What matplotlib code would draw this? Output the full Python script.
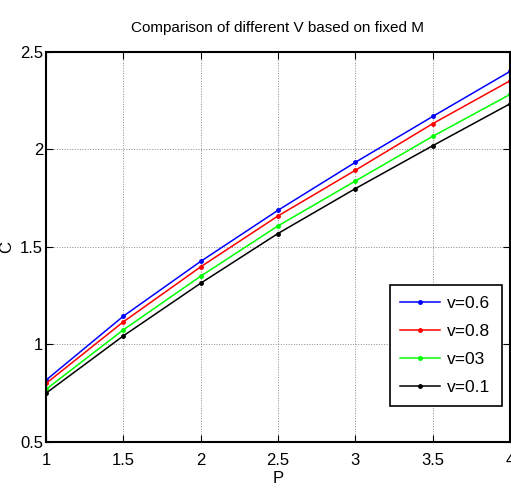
import matplotlib
matplotlib.use("Agg")
import matplotlib.pyplot as plt

plt.rcParams['font.family'] = ['Liberation Sans', 'DejaVu Sans']

p = [1, 1.5, 2, 2.5, 3, 3.5, 4]
c_v06 = [0.817, 1.145, 1.426, 1.688, 1.934, 2.169, 2.400]
c_v08 = [0.800, 1.116, 1.398, 1.659, 1.893, 2.132, 2.352]
c_v03 = [0.770, 1.075, 1.350, 1.608, 1.838, 2.067, 2.282]
c_v01 = [0.750, 1.044, 1.314, 1.569, 1.799, 2.019, 2.234]

labels = ['v=0.6', 'v=0.8', 'v=03', 'v=0.1']
colors = ['#0000ff', '#ff0000', '#00ff00', '#000000']

fig = plt.figure(figsize=(5.11, 4.90), dpi=100)
ax = fig.add_axes([0.090, 0.098, 0.908, 0.796])

for ys, lab, col in zip([c_v06, c_v08, c_v03, c_v01], labels, colors):
    ax.plot(p, ys, color=col, marker='.', markersize=5, linewidth=1.1, label=lab)

ax.set_xlim(1, 4)
ax.set_ylim(0.5, 2.5)
ax.set_xticks([1, 1.5, 2, 2.5, 3, 3.5, 4])
ax.set_xticklabels(['1', '1.5', '2', '2.5', '3', '3.5', '4'])
ax.set_yticks([0.5, 1, 1.5, 2, 2.5])
ax.set_yticklabels(['0.5', '1', '1.5', '2', '2.5'])
ax.grid(True, color='#8a8a8a', linewidth=0.7, linestyle=':')
ax.tick_params(direction='in', top=True, right=True, labelsize=12, length=5)
ax.tick_params(axis='x', pad=8)
ax.tick_params(axis='y', pad=2)
for s in ax.spines.values():
    s.set_linewidth(1.5)

ax.set_title('Comparison of different V based on fixed M', fontsize=11, pad=14)
ax.set_xlabel('P', fontsize=12, labelpad=2)
ax.set_ylabel('C', fontsize=12, labelpad=4)

leg = ax.legend(loc='lower left', bbox_to_anchor=(0.741, 0.093, 0.241, 0.344), mode='expand',
                fontsize=12.5, fancybox=False, framealpha=1, edgecolor='black',
                handlelength=2.3, borderaxespad=0, labelspacing=0.75, handletextpad=0.4,
                borderpad=0.6)
leg.get_frame().set_linewidth(1.2)

fig.savefig('out.png', dpi=100)
